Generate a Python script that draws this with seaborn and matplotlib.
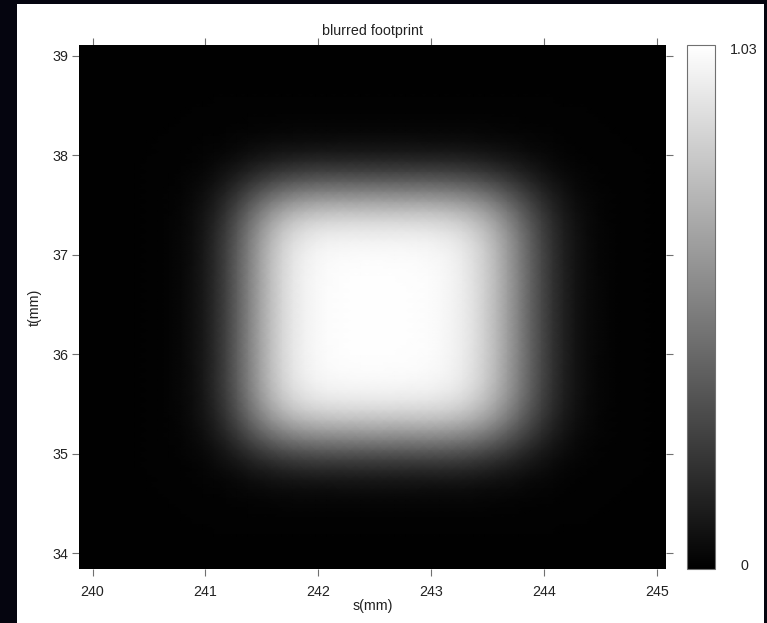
import numpy as np
import matplotlib
matplotlib.use("Agg")
import matplotlib.pyplot as plt
import seaborn as sns
from matplotlib.patches import Rectangle

# ---------------- data ----------------
title = "blurred footprint"
x_label = "s(mm)"
y_label = "t(mm)"

# sample grid of the footprint along s and t (mm)
s_start, s_step = 239.88, 0.1
t_start, t_step = 33.84, 0.1
t_axis_top = 39.11

# normalised intensity profile along s (one value every 0.1 mm)
s_profile = [0, 0, 0, 0, 0, 0, 0.001, 0.004, 0.010, 0.023,
             0.048, 0.091, 0.159, 0.252, 0.370, 0.500, 0.630, 0.748, 0.841, 0.909,
             0.952, 0.977, 0.990, 0.996, 0.999, 1.0, 1.0, 1.0, 0.999, 0.998,
             0.996, 0.991, 0.980, 0.961, 0.929, 0.880, 0.811, 0.722, 0.616, 0.500,
             0.384, 0.278, 0.189, 0.120, 0.071, 0.039, 0.020, 0.009, 0.004, 0.002,
             0.001, 0, 0]
# normalised intensity profile along t (one value every 0.1 mm, bottom to top)
t_profile = [0, 0, 0, 0, 0.001, 0.004, 0.010, 0.023, 0.048, 0.091,
             0.159, 0.252, 0.370, 0.500, 0.630, 0.748, 0.841, 0.909, 0.952, 0.977,
             0.990, 0.996, 0.999, 1.0, 1.0, 1.0, 1.0, 1.0, 1.0, 0.999,
             0.996, 0.990, 0.977, 0.952, 0.909, 0.841, 0.748, 0.630, 0.500, 0.370,
             0.252, 0.159, 0.091, 0.048, 0.023, 0.010, 0.004, 0.001, 0, 0,
             0, 0, 0, 0]
peak = 1.03

s_ticks = [240, 241, 242, 243, 244, 245]
t_ticks = [34, 35, 36, 37, 38, 39]
cbar_ticks = [0, 1.03]
cbar_ticklabels = ["0", "1.03"]

image = peak * np.outer(np.array(t_profile), np.array(s_profile))

# ---------------- figure ----------------
sns.set_style("ticks")
plt.rcParams["font.family"] = ["Liberation Sans", "DejaVu Sans"]
FS = 10.3

W, H = 767, 623
fig = plt.figure(figsize=(W / 100, H / 100), dpi=100, facecolor="#05050f")
fig.add_artist(Rectangle((17 / W, 0), (764 - 17) / W, (623 - 4) / H,
                         transform=fig.transFigure, facecolor="white",
                         edgecolor="none", zorder=-10))

ax = fig.add_axes([79 / W, 1 - 569 / H, 587 / W, 524 / H])
cax = fig.add_axes([687 / W, 1 - 569 / H, 28 / W, 524 / H])

sns.heatmap(image, ax=ax, cbar_ax=cax, cmap="gray", vmin=-0.008, vmax=1.036,
            shading="gouraud", xticklabels=False, yticklabels=False)

ax.set_xlim(0, len(s_profile) - 1)
ax.set_ylim(0, (t_axis_top - t_start) / t_step)

ax.set_xticks([(v - s_start) / s_step for v in s_ticks])
ax.set_xticklabels([str(v) for v in s_ticks])
ax.set_yticks([(v - t_start) / t_step for v in t_ticks])
ax.set_yticklabels([str(v) for v in t_ticks], rotation=0)

ax.tick_params(axis="both", which="major", direction="out", length=5, width=0.8,
               color="#707070", labelcolor="#222222", labelsize=FS,
               top=True, right=True, bottom=True, left=True,
               labeltop=False, labelright=False)
ax.tick_params(axis="x", pad=6.5)
ax.tick_params(axis="y", pad=2.5)

ax.set_title(title, fontsize=FS, color="#222222", pad=7.5)
ax.set_xlabel(x_label, fontsize=FS, color="#222222", labelpad=0)
ax.set_ylabel(y_label, fontsize=FS, color="#222222", labelpad=8)

cbar = ax.collections[0].colorbar
cbar.outline.set_linewidth(0.8)
cbar.outline.set_edgecolor("#707070")
cax.set_yticks(cbar_ticks)
cax.set_yticklabels(cbar_ticklabels)
cax.tick_params(axis="y", direction="in", length=3, width=0.8, color="#707070",
                left=True, right=True, labelsize=FS, labelcolor="#222222", pad=21)
for lab in cax.get_yticklabels():
    lab.set_horizontalalignment("center")

fig.savefig("out.png", dpi=100, facecolor=fig.get_facecolor())
